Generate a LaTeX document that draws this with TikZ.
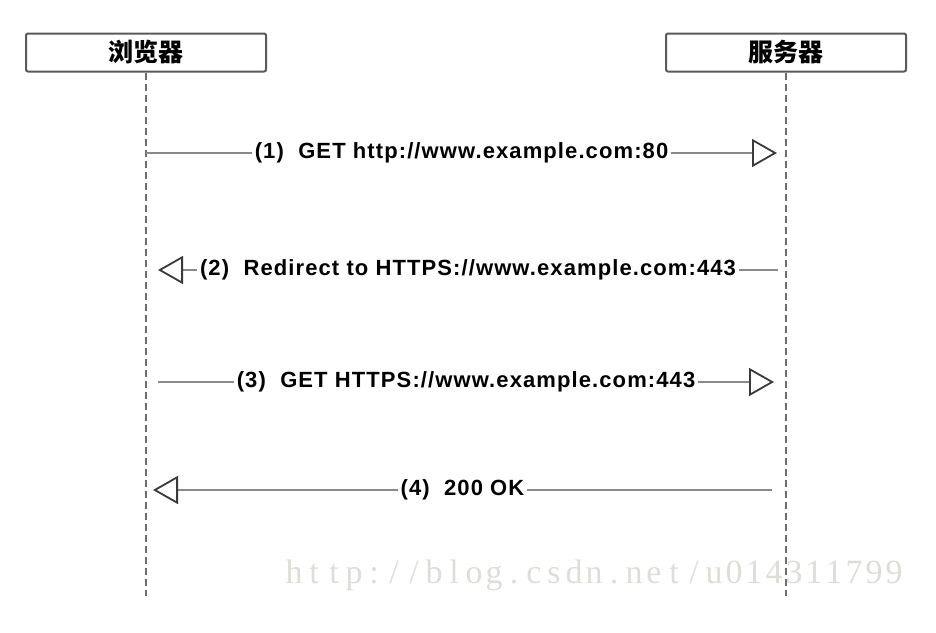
\documentclass[tikz,border=0pt]{standalone}
\usepackage{fontspec}
\setmainfont{Liberation Sans}
\newfontfamily\labelfont{Liberation Sans}[LetterSpace=5]
\newfontfamily\cjkfont{Noto Sans CJK SC}
\newfontfamily\wmfont{Liberation Serif}
\usetikzlibrary{arrows.meta}
\definecolor{lifegray}{HTML}{6E6E6E}
\definecolor{msggray}{HTML}{8A8A8A}
\definecolor{boxgray}{HTML}{5A5A5A}
\definecolor{tipgray}{HTML}{3A3A3A}
\definecolor{wmgray}{HTML}{DEDED8}
\newcommand\wmcells[1]{\wmloop#1\relax}
\def\wmloop#1{\ifx#1\relax\else\makebox[20pt]{#1}\expandafter\wmloop\fi}
\begin{document}
\begin{tikzpicture}[x=1pt,y=-1pt,
  actor/.style={draw=boxgray, line width=2pt, rounded corners=2pt, fill=white,
    minimum width=240pt, minimum height=38pt, inner sep=0pt,
    font=\cjkfont\bfseries\fontsize{25}{27}\selectfont},
  lifeline/.style={draw=lifegray, line width=2.4pt, dash pattern=on 7pt off 4pt},
  msg/.style={draw=msggray, line width=2.6pt,
    -{Triangle[open, length=25pt, width=28pt, line width=1.8pt, color=tipgray]}},
  msglabel/.style={fill=white, inner sep=3pt, text=black,
    font=\labelfont\bfseries\fontsize{22}{24}\selectfont},
  wm/.style={text=wmgray, inner sep=0pt, font=\wmfont\fontsize{34}{36}\selectfont}
]
\useasboundingbox (0,0) rectangle (936,632);
% watermark (underneath the lifelines)
\node[wm] (watermark) at (594,575) {\wmcells{http://blog.csdn.net/u014311799}};
% actors
\node[actor] (browser) at (146,52.5) {浏览器};
\node[actor] (server) at (786,52.5) {服务器};
\coordinate (bend) at (146,596);
\coordinate (send) at (786,596);
\draw[lifeline] (browser.south) -- (bend);
\draw[lifeline] (server.south) -- (send);
% message end points
\coordinate (m1s) at (146,153); \coordinate (m1e) at (777,153);
\coordinate (m2s) at (778,270); \coordinate (m2e) at (158,270);
\coordinate (m3s) at (158,382); \coordinate (m3e) at (774,382);
\coordinate (m4s) at (772,490); \coordinate (m4e) at (153,490);
\draw[msg] (m1s) -- node[msglabel] (l1) {(1)\ \ GET http://www.example.com:80} (m1e);
\draw[msg] (m2s) -- node[msglabel] (l2) {(2)\ \ Redirect to HTTPS://www.example.com:443} (m2e);
\draw[msg] (m3s) -- node[msglabel] (l3) {(3)\ \ GET HTTPS://www.example.com:443} (m3e);
\draw[msg] (m4s) -- node[msglabel] (l4) {(4)\ \ 200 OK} (m4e);
\end{tikzpicture}
\end{document}
